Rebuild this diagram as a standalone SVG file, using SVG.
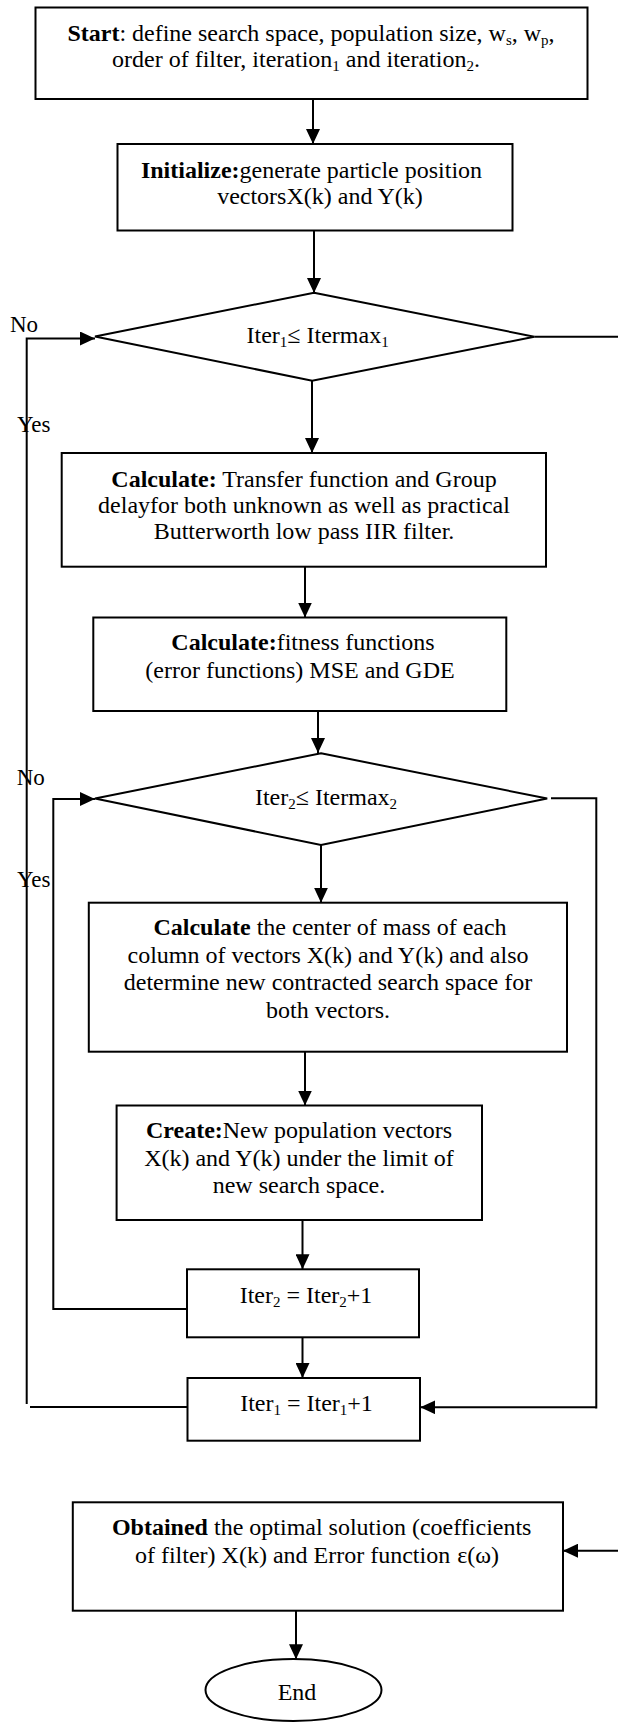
<svg xmlns="http://www.w3.org/2000/svg" width="618" height="1726" viewBox="0 0 618 1726">
<defs>
<style>
.box{fill:#fff;stroke:#000;stroke-width:2}
.ln{fill:none;stroke:#000;stroke-width:2}
.t{font-family:"Liberation Serif","Times New Roman",serif;font-size:24px;fill:#000;text-anchor:middle}
.lbl{font-family:"Liberation Serif","Times New Roman",serif;font-size:23px;fill:#000}
.b{font-weight:bold}
</style>
<marker id="ah" markerUnits="userSpaceOnUse" markerWidth="15" markerHeight="14" refX="15" refY="7" orient="auto">
<path d="M0,0 L15,7 L0,14 z" fill="#000"/>
</marker>
</defs>
<rect width="618" height="1726" fill="#fff"/>

<g id="connectors">
<line class="ln" x1="313" y1="99" x2="313" y2="144" marker-end="url(#ah)"/>
<line class="ln" x1="314" y1="231" x2="314" y2="293" marker-end="url(#ah)"/>
<line class="ln" x1="312" y1="381" x2="312" y2="453" marker-end="url(#ah)"/>
<line class="ln" x1="305" y1="567" x2="305" y2="617.5" marker-end="url(#ah)"/>
<line class="ln" x1="318" y1="711" x2="318" y2="753" marker-end="url(#ah)"/>
<line class="ln" x1="321" y1="845" x2="321" y2="902.7" marker-end="url(#ah)"/>
<line class="ln" x1="305" y1="1052" x2="305" y2="1105.5" marker-end="url(#ah)"/>
<line class="ln" x1="302.5" y1="1220" x2="302.5" y2="1269.3" marker-end="url(#ah)"/>
<line class="ln" x1="302.5" y1="1337.3" x2="302.5" y2="1378" marker-end="url(#ah)"/>
<path class="ln" d="M187,1309 H53.3 V799 H95" marker-end="url(#ah)"/>
<path class="ln" d="M26.7,1404 V338.5 H95" marker-end="url(#ah)"/>
<line class="ln" x1="30" y1="1407" x2="187.5" y2="1407"/>
<line class="ln" x1="534.3" y1="336.7" x2="618" y2="336.7"/>
<path class="ln" d="M551,798.3 H596.3 V1408.5"/>
<line class="ln" x1="596.3" y1="1407.3" x2="420.3" y2="1407.3" marker-end="url(#ah)"/>
<line class="ln" x1="618" y1="1550.7" x2="563" y2="1550.7" marker-end="url(#ah)"/>
<line class="ln" x1="296" y1="1610.7" x2="296" y2="1659.3" marker-end="url(#ah)"/>
</g>

<g id="start">
<rect class="box" x="35.5" y="7.5" width="552" height="91.5"/>
<text class="t" x="311" y="40.5"><tspan class="b">Start</tspan>: define search space, population size, w<tspan font-size="15" dy="4">s</tspan><tspan dy="-4">, w</tspan><tspan font-size="15" dy="4">p</tspan><tspan dy="-4">,</tspan></text>
<text class="t" x="296" y="67">order of filter, iteration<tspan font-size="15" dy="4">1</tspan><tspan dy="-4"> and iteration</tspan><tspan font-size="15" dy="4">2</tspan><tspan dy="-4">.</tspan></text>
</g>

<g id="initialize">
<rect class="box" x="117.5" y="144" width="395" height="86.5"/>
<text class="t" x="311.5" y="177.5"><tspan class="b">Initialize:</tspan>generate particle position</text>
<text class="t" x="320" y="204">vectorsX(k) and Y(k)</text>
</g>

<g id="decision1">
<polygon class="box" points="314,292.7 534.3,336.7 312.2,380.7 95,336.5"/>
<text class="t" x="317.6" y="343">Iter<tspan font-size="15" dy="4">1</tspan><tspan dy="-4">≤ Itermax</tspan><tspan font-size="15" dy="4">1</tspan></text>
</g>

<g id="labels">
<text class="lbl" x="10" y="331.5">No</text>
<text class="lbl" x="17" y="431.5">Yes</text>
<text class="lbl" x="16.7" y="785">No</text>
<text class="lbl" x="17" y="886.5">Yes</text>
</g>

<g id="calc1">
<rect class="box" x="61.7" y="453" width="484.3" height="113.7"/>
<text class="t" x="304" y="486.5"><tspan class="b">Calculate:</tspan> Transfer function and Group</text>
<text class="t" x="304" y="512.5">delayfor both unknown as well as practical</text>
<text class="t" x="304" y="538.5">Butterworth low pass IIR filter.</text>
</g>

<g id="calc2">
<rect class="box" x="93.3" y="617.5" width="413" height="93.5"/>
<text class="t" x="303" y="650"><tspan class="b">Calculate:</tspan>fitness functions</text>
<text class="t" x="300" y="678">(error functions) MSE and GDE</text>
</g>

<g id="decision2">
<polygon class="box" points="321,753.3 547.2,798.5 321,845 95,798.5"/>
<text class="t" x="326" y="805">Iter<tspan font-size="15" dy="4">2</tspan><tspan dy="-4">≤ Itermax</tspan><tspan font-size="15" dy="4">2</tspan></text>
</g>

<g id="calc3">
<rect class="box" x="88.8" y="902.7" width="478.2" height="149"/>
<text class="t" x="330" y="935"><tspan class="b">Calculate</tspan> the center of mass of each</text>
<text class="t" x="328" y="962.5">column of vectors X(k) and Y(k) and also</text>
<text class="t" x="328" y="989.5">determine new contracted search space for</text>
<text class="t" x="328" y="1018">both vectors.</text>
</g>

<g id="create">
<rect class="box" x="116.6" y="1105.5" width="365.4" height="114.5"/>
<text class="t" x="299" y="1138"><tspan class="b">Create:</tspan>New population vectors</text>
<text class="t" x="299" y="1165.5">X(k) and Y(k) under the limit of</text>
<text class="t" x="299" y="1193">new search space.</text>
</g>

<g id="iter2">
<rect class="box" x="187" y="1269.3" width="232" height="68"/>
<text class="t" x="306" y="1302.5">Iter<tspan font-size="15" dy="4">2</tspan><tspan dy="-4"> = Iter</tspan><tspan font-size="15" dy="4">2</tspan><tspan dy="-4">+1</tspan></text>
</g>

<g id="iter1">
<rect class="box" x="187.5" y="1378" width="232.5" height="62.7"/>
<text class="t" x="306.5" y="1410.5">Iter<tspan font-size="15" dy="4">1</tspan><tspan dy="-4"> = Iter</tspan><tspan font-size="15" dy="4">1</tspan><tspan dy="-4">+1</tspan></text>
</g>

<g id="obtained">
<rect class="box" x="72.8" y="1502.3" width="490.2" height="108.4"/>
<text class="t" x="321.7" y="1535"><tspan class="b">Obtained</tspan> the optimal solution (coefficients</text>
<text class="t" x="317" y="1562.5">of filter) X(k) and Error function<tspan dx="7">ε(ω)</tspan></text>
</g>

<g id="end">
<ellipse class="box" cx="293.5" cy="1690" rx="88" ry="31"/>
<text class="t" x="297" y="1700">End</text>
</g>
</svg>
